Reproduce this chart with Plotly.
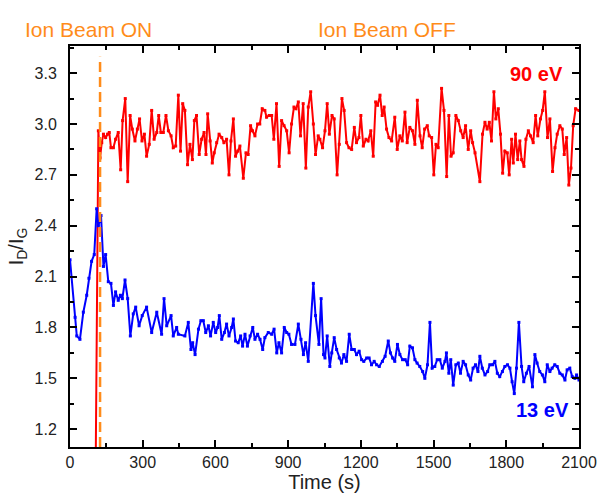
import plotly.graph_objects as go

# ---------------- data ----------------
BLUE_T = [
    0, 21, 28, 41, 55, 69, 78, 89, 100, 110,
    117, 128, 138, 147, 158, 169, 179, 188, 199, 208,
    216, 227, 238, 249, 261, 271, 285, 298, 316, 337,
    358, 378, 388, 399, 417, 426, 440, 447, 474, 488,
    499, 506, 516, 530, 540, 550, 560, 571, 580, 591,
    601, 609, 616, 626, 637, 646, 656, 667, 674, 683,
    694, 704, 712, 722, 732, 743, 754, 763, 774, 784,
    795, 804, 818, 832, 842, 853, 862, 873, 884, 894,
    903, 914, 928, 942, 953, 963, 972, 983, 1004, 1013,
    1027, 1036, 1046, 1052, 1061, 1072, 1080, 1090, 1100, 1111,
    1120, 1130, 1141, 1152, 1162, 1173, 1182, 1193, 1203, 1212,
    1224, 1234, 1244, 1255, 1265, 1276, 1289, 1300, 1313, 1322,
    1331, 1340, 1351, 1361, 1372, 1383, 1393, 1402, 1413, 1423,
    1432, 1443, 1455, 1464, 1475, 1485, 1494, 1505, 1515, 1526,
    1536, 1547, 1553, 1563, 1571, 1581, 1592, 1602, 1611, 1622,
    1632, 1643, 1653, 1663, 1673, 1683, 1691, 1701, 1712, 1723,
    1732, 1743, 1753, 1763, 1773, 1784, 1794, 1805, 1815, 1824,
    1833, 1842, 1852, 1863, 1872, 1883, 1894, 1908, 1918, 1927,
    1938, 1949, 1959, 1969, 1980, 1989, 2000, 2010, 2021, 2031,
    2042, 2051, 2062, 2072, 2083, 2090, 2100,
]
BLUE_V = [
    2.20, 1.86, 1.75, 1.73, 1.89, 1.99, 2.09, 2.19, 2.23, 2.50,
    2.40, 2.46, 2.16, 2.23, 2.07, 2.06, 1.93, 2.01, 1.96, 1.99,
    1.97, 2.08, 1.97, 1.75, 1.88, 1.92, 1.81, 1.87, 1.92, 1.77,
    1.89, 1.76, 1.97, 1.81, 1.87, 1.75, 1.80, 1.76, 1.75, 1.83,
    1.67, 1.71, 1.64, 1.79, 1.84, 1.84, 1.77, 1.81, 1.75, 1.83,
    1.77, 1.80, 1.87, 1.73, 1.77, 1.82, 1.75, 1.80, 1.85, 1.72,
    1.71, 1.75, 1.69, 1.76, 1.69, 1.75, 1.80, 1.73, 1.76, 1.73,
    1.67, 1.74, 1.77, 1.76, 1.79, 1.65, 1.71, 1.65, 1.80, 1.77,
    1.76, 1.70, 1.70, 1.82, 1.73, 1.64, 1.71, 1.60, 2.06, 1.87,
    1.70, 1.97, 1.64, 1.62, 1.75, 1.57, 1.65, 1.74, 1.67, 1.62,
    1.59, 1.64, 1.60, 1.76, 1.67, 1.67, 1.64, 1.66, 1.61, 1.60,
    1.62, 1.62, 1.58, 1.60, 1.58, 1.57, 1.60, 1.63, 1.72, 1.65,
    1.62, 1.60, 1.70, 1.64, 1.61, 1.61, 1.58, 1.69, 1.68, 1.61,
    1.59, 1.57, 1.54, 1.50, 1.58, 1.83, 1.56, 1.57, 1.61, 1.61,
    1.56, 1.60, 1.65, 1.53, 1.61, 1.46, 1.58, 1.59, 1.53, 1.60,
    1.58, 1.52, 1.49, 1.56, 1.58, 1.54, 1.63, 1.56, 1.52, 1.54,
    1.58, 1.58, 1.60, 1.53, 1.51, 1.54, 1.57, 1.58, 1.56, 1.48,
    1.41, 1.56, 1.83, 1.57, 1.48, 1.53, 1.57, 1.45, 1.64, 1.59,
    1.54, 1.52, 1.48, 1.58, 1.54, 1.56, 1.58, 1.57, 1.53, 1.52,
    1.49, 1.55, 1.56, 1.51, 1.50, 1.52, 1.49,
]

RED_T = [
    105, 117, 124, 131, 138, 147, 155, 162, 169, 179,
    188, 199, 209, 217, 228, 238, 248, 257, 268, 278,
    287, 297, 307, 316, 327, 337, 347, 358, 366, 375,
    385, 396, 406, 417, 426, 436, 447, 456, 465, 474,
    485, 495, 505, 513, 522, 533, 543, 553, 561, 568,
    578, 587, 595, 605, 615, 626, 635, 646, 656, 664,
    674, 683, 692, 701, 715, 726, 735, 745, 753, 763,
    774, 783, 793, 804, 811, 822, 832, 841, 852, 863,
    873, 883, 894, 904, 914, 924, 932, 942, 951, 962,
    973, 983, 993, 1004, 1013, 1024, 1031, 1042, 1052, 1061,
    1070, 1081, 1090, 1102, 1111, 1122, 1131, 1141, 1151, 1162,
    1173, 1182, 1192, 1200, 1210, 1221, 1230, 1241, 1251, 1261,
    1269, 1279, 1288, 1296, 1306, 1316, 1327, 1340, 1350, 1361,
    1371, 1382, 1391, 1402, 1413, 1423, 1433, 1444, 1453, 1463,
    1474, 1482, 1492, 1501, 1510, 1519, 1533, 1543, 1554, 1563,
    1572, 1581, 1592, 1602, 1612, 1622, 1632, 1643, 1653, 1661,
    1671, 1691, 1702, 1712, 1721, 1730, 1739, 1749, 1757, 1767,
    1776, 1785, 1794, 1804, 1812, 1822, 1829, 1838, 1847, 1856,
    1863, 1873, 1881, 1891, 1900, 1911, 1921, 1930, 1941, 1950,
    1959, 1970, 1980, 1991, 2001, 2010, 2021, 2031, 2039, 2049,
    2058, 2067, 2076, 2086, 2100,
]
RED_V = [
    0.80, 2.96, 2.80, 2.89, 2.94, 2.92, 2.94, 2.95, 2.86, 2.86,
    2.91, 2.95, 2.73, 3.02, 3.15, 2.66, 3.05, 2.97, 2.90, 2.97,
    3.03, 2.90, 2.94, 2.81, 2.88, 3.08, 2.91, 2.95, 3.05, 2.95,
    2.95, 3.05, 2.96, 2.93, 2.86, 2.87, 3.17, 2.84, 3.12, 3.08,
    2.76, 2.88, 2.79, 3.02, 3.05, 2.82, 2.91, 2.95, 2.82, 3.06,
    2.90, 2.77, 2.83, 2.89, 2.94, 2.92, 2.89, 2.91, 2.70, 2.90,
    3.03, 2.81, 2.84, 2.87, 2.68, 2.83, 2.82, 2.99, 2.96, 2.93,
    3.00, 3.00, 3.09, 3.08, 3.04, 3.05, 3.05, 2.91, 3.12, 2.75,
    3.02, 2.99, 2.96, 2.83, 3.00, 3.10, 3.09, 3.13, 2.93, 3.12,
    2.74, 3.10, 3.19, 3.00, 2.82, 2.93, 2.91, 2.86, 2.96, 3.12,
    2.94, 3.05, 3.03, 2.70, 2.88, 3.15, 3.08, 2.89, 2.86, 2.85,
    2.98, 2.89, 2.92, 3.05, 2.87, 2.91, 2.90, 2.96, 2.81, 3.13,
    3.11, 3.17, 3.05, 3.10, 2.97, 2.92, 2.90, 3.04, 2.85, 2.93,
    2.90, 3.07, 2.89, 2.98, 2.96, 2.88, 3.14, 2.93, 2.86, 2.97,
    2.99, 2.93, 2.92, 2.70, 2.88, 2.86, 3.21, 3.08, 2.69, 3.05,
    2.81, 2.83, 3.05, 3.02, 2.96, 2.92, 2.99, 2.85, 2.96, 2.89,
    2.83, 2.66, 2.94, 3.01, 2.97, 3.01, 2.90, 3.19, 3.03, 3.09,
    2.94, 2.71, 2.84, 2.83, 2.70, 2.91, 2.77, 2.94, 2.79, 2.90,
    2.79, 2.75, 2.91, 2.96, 2.93, 2.89, 3.05, 2.93, 3.03, 3.08,
    3.19, 2.92, 3.03, 2.72, 2.86, 2.94, 2.99, 2.97, 2.82, 2.92,
    2.64, 2.74, 2.99, 3.09, 3.08,
]

ION_BEAM_ON_TIME = 124
X_TICKS = [0, 300, 600, 900, 1200, 1500, 1800, 2100]
Y_TICKS = [1.2, 1.5, 1.8, 2.1, 2.4, 2.7, 3.0, 3.3]

assert len(BLUE_T) == len(BLUE_V), (len(BLUE_T), len(BLUE_V))
assert len(RED_T) == len(RED_V), (len(RED_T), len(RED_V))

FONT = "Liberation Sans, Arial, sans-serif"
ORANGE = "#FF8C1A"
RED = "#FF0000"
BLUE = "#0000FF"
TXT = "#222222"

fig = go.Figure()
fig.add_trace(go.Scatter(
    x=RED_T, y=RED_V, mode="lines+markers", name="90 eV",
    line=dict(color=RED, width=2), marker=dict(color=RED, size=3, symbol="square"),
))
fig.add_trace(go.Scatter(
    x=BLUE_T, y=BLUE_V, mode="lines+markers", name="13 eV",
    line=dict(color=BLUE, width=2), marker=dict(color=BLUE, size=3, symbol="square"),
))

fig.add_shape(type="line", xref="x", yref="paper",
              x0=ION_BEAM_ON_TIME, x1=ION_BEAM_ON_TIME, y0=0, y1=0.973,
              line=dict(color=ORANGE, width=2.5, dash="10px,5px"))

axis_common = dict(
    showline=True, linecolor="black", linewidth=2, mirror="ticks",
    ticks="inside", ticklen=7, tickwidth=2, tickcolor="black",
    showgrid=False, zeroline=False, automargin=False,
    tickfont=dict(family=FONT, size=16, color=TXT),
)

fig.update_layout(
    width=597, height=494,
    margin=dict(l=70, r=18, t=46, b=47),
    paper_bgcolor="white", plot_bgcolor="white",
    showlegend=False,
    font=dict(family=FONT, color=TXT),
    xaxis=dict(
        range=[0, 2100], tickvals=X_TICKS,
        minor=dict(dtick=150, tick0=0, ticks="inside", ticklen=4, tickwidth=2, tickcolor="black"),
        title=dict(text="Time (s)", font=dict(family=FONT, size=20, color=TXT), standoff=4),
        ticklabelstandoff=0,
        **axis_common,
    ),
    yaxis=dict(
        range=[1.095, 3.46], tickvals=Y_TICKS, tickformat=".1f",
        minor=dict(dtick=0.15, tick0=1.05, ticks="inside", ticklen=4, tickwidth=2, tickcolor="black"),
        title=dict(text="I<sub>D</sub>/I<sub>G</sub>", font=dict(family=FONT, size=20, color=TXT), standoff=6),
        ticklabelstandoff=8,
        **axis_common,
    ),
)

ann = dict(xref="paper", yref="paper", showarrow=False, xanchor="center", yanchor="middle")
fig.add_annotation(text="Ion Beam ON", x=0.037, y=1.042,
                   font=dict(family=FONT, size=21, color=ORANGE), **ann)
fig.add_annotation(text="Ion Beam OFF", x=0.623, y=1.042,
                   font=dict(family=FONT, size=21, color=ORANGE), **ann)
fig.add_annotation(text="<b>90 eV</b>", x=0.916, y=0.930,
                   font=dict(family=FONT, size=20, color=RED), **ann)
fig.add_annotation(text="<b>13 eV</b>", x=0.929, y=0.092,
                   font=dict(family=FONT, size=20, color=BLUE), **ann)

# remove the browser's default 8px page margin so the figure fills the window exactly
fig.write_html("out.html", config={"displayModeBar": False},
               post_script="document.body.style.margin='0';")
